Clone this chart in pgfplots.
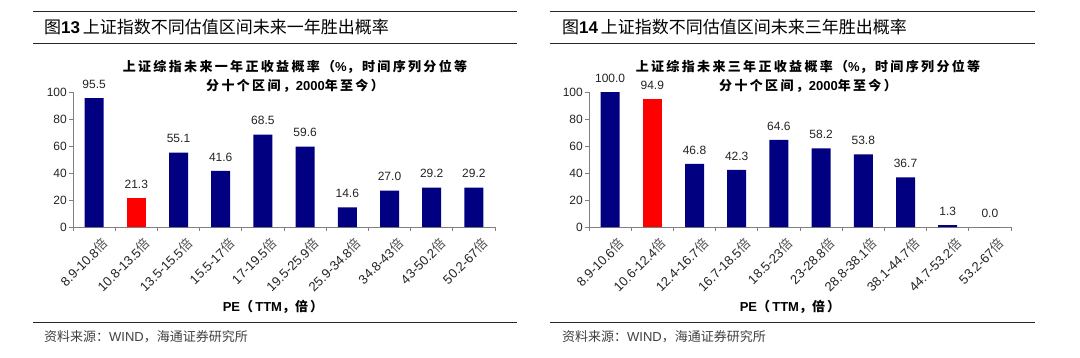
\documentclass[border=0pt]{standalone}
\usepackage{fontspec}
\setmainfont{Liberation Sans}
\newfontfamily\cjk{Noto Sans CJK SC}
\newfontfamily\cjksp[LetterSpace=18]{Noto Sans CJK SC}
\newfontfamily\latsp[LetterSpace=6]{Liberation Sans}
\usepackage{pgfplots}
\pgfplotsset{compat=1.18}
\definecolor{navy}{RGB}{0,0,128}
\definecolor{axgray}{RGB}{128,128,128}
\definecolor{txt}{RGB}{35,35,35}
\definecolor{rule}{RGB}{40,40,40}
\pgfplotsset{pe/.style={
  scale only axis, width=422pt, height=135pt,
  ymin=0, ymax=100, xmin=-0.5, xmax=9.5,
  clip=false,
  axis x line*=bottom, axis y line*=left,
  axis line style={axgray, line width=0.9pt, -},
  ytick={0,20,...,100}, xtick={0,...,9},
  minor xtick={-0.5,0.5,...,9.5},
  tick align=outside, major tick length=4pt, minor tick length=4pt,
  tick style={axgray, line width=0.9pt},
  major x tick style={draw=none},
  /pgf/number format/assume math mode=true,
  yticklabel style={font=\fontsize{12}{12}\selectfont, text=txt, inner sep=2pt},
  xticklabel style={rotate=45, anchor=north east, font=\fontsize{13}{13}\selectfont, text=txt, inner sep=1pt, yshift=-8pt, xshift=2pt},
  every node near coord/.append style={font=\fontsize{12}{12}\selectfont, text=txt, yshift=6pt},
  nodes near coords={\pgfmathprintnumber[fixed,fixed zerofill,precision=1,assume math mode=true]{\pgfplotspointmeta}},
}}
\newcommand{\bei}{{\cjk\color{txt!80} 倍}}
\begin{document}
\begin{tikzpicture}
\path (0pt,0pt) rectangle (1080pt,357pt);
% ---------- left panel ----------
\draw[rule, line width=0.9pt] (33pt,346pt) -- (517pt,346pt);
\draw[rule, line width=0.9pt] (33pt,314pt) -- (517pt,314pt);
\draw[rule, line width=0.9pt] (33pt,35pt) -- (517pt,35pt);
\node[anchor=west, inner sep=0pt, font=\fontsize{17}{17}\selectfont] at (44pt,329.5pt) {{\cjk 图}\textbf{13}\,{\cjk 上证指数不同估值区间未来一年胜出概率}};
\node[align=center, inner sep=0pt, font=\fontsize{13}{19}\selectfont] at (295pt,280.5pt) {{\cjksp\bfseries 上证综指未来一年正收益概率（}{\latsp\bfseries\%}{\cjksp\bfseries ，时间序列分位等}\\{\cjksp\bfseries 分十个区间，}{\bfseries 2000}{\cjksp\bfseries 年至今）}};
\node[inner sep=0pt, font=\fontsize{13}{13}\selectfont] at (273pt,50pt) {\textbf{PE}{\cjk\bfseries （\,}\textbf{TTM}{\cjk\bfseries ，倍\,）}};
\node[anchor=west, inner sep=0pt, font=\fontsize{13}{13}\selectfont, text=black!75] at (44pt,20pt) {{\cjk 资料来源：}WIND{\cjk ，海通证券研究所}};
\begin{axis}[pe, at={(73pt,130pt)}, anchor=south west,
  xticklabels={8.9-10.8\bei, 10.8-13.5\bei, 13.5-15.5\bei, 15.5-17\bei, 17-19.5\bei, 19.5-25.9\bei, 25.9-34.8\bei, 34.8-43\bei, 43-50.2\bei, 50.2-67\bei}]
\addplot[ybar, bar width=19pt, bar shift=0pt, fill=navy, draw=none] coordinates {(0,95.5) (2,55.1) (3,41.6) (4,68.5) (5,59.6) (6,14.6) (7,27.0) (8,29.2) (9,29.2)};
\addplot[ybar, bar width=19pt, bar shift=0pt, fill=red, draw=none] coordinates {(1,21.3)};
\end{axis}
% ---------- right panel ----------
\draw[rule, line width=0.9pt] (550pt,346pt) -- (1035pt,346pt);
\draw[rule, line width=0.9pt] (550pt,314pt) -- (1035pt,314pt);
\draw[rule, line width=0.9pt] (550pt,35pt) -- (1035pt,35pt);
\node[anchor=west, inner sep=0pt, font=\fontsize{17}{17}\selectfont] at (562pt,329.5pt) {{\cjk 图}\textbf{14}\,{\cjk 上证指数不同估值区间未来三年胜出概率}};
\node[align=center, inner sep=0pt, font=\fontsize{13}{19}\selectfont] at (808pt,280.5pt) {{\cjksp\bfseries 上证综指未来三年正收益概率（}{\latsp\bfseries\%}{\cjksp\bfseries ，时间序列分位等}\\{\cjksp\bfseries 分十个区间，}{\bfseries 2000}{\cjksp\bfseries 年至今）}};
\node[inner sep=0pt, font=\fontsize{13}{13}\selectfont] at (790pt,50pt) {\textbf{PE}{\cjk\bfseries （\,}\textbf{TTM}{\cjk\bfseries ，倍\,）}};
\node[anchor=west, inner sep=0pt, font=\fontsize{13}{13}\selectfont, text=black!75] at (562pt,20pt) {{\cjk 资料来源：}WIND{\cjk ，海通证券研究所}};
\begin{axis}[pe, at={(589pt,130pt)}, anchor=south west,
  xticklabels={8.9-10.6\bei, 10.6-12.4\bei, 12.4-16.7\bei, 16.7-18.5\bei, 18.5-23\bei, 23-28.8\bei, 28.8-38.1\bei, 38.1-44.7\bei, 44.7-53.2\bei, 53.2-67\bei}]
\addplot[ybar, bar width=19pt, bar shift=0pt, fill=navy, draw=none] coordinates {(0,100.0) (2,46.8) (3,42.3) (4,64.6) (5,58.2) (6,53.8) (7,36.7) (8,1.3) (9,0.0)};
\addplot[ybar, bar width=19pt, bar shift=0pt, fill=red, draw=none] coordinates {(1,94.9)};
\end{axis}
\end{tikzpicture}
\end{document}
